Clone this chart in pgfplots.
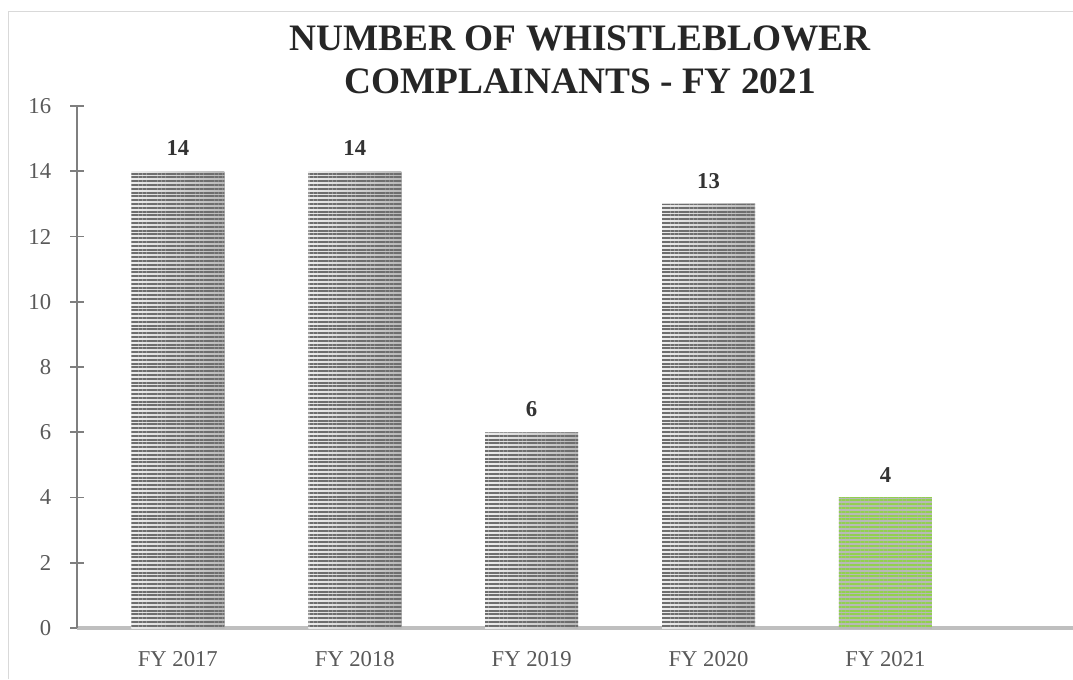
\documentclass[border=0pt]{standalone}
\usepackage{fontspec}
\setmainfont{Liberation Serif}
\usepackage{pgfplots}
\pgfplotsset{compat=1.18}
\usetikzlibrary{patterns.meta}
\definecolor{framec}{HTML}{D9D9D9}
\definecolor{titlec}{HTML}{262626}
\definecolor{tickc}{HTML}{595959}
\definecolor{labelc}{HTML}{333333}
\definecolor{yaxisc}{HTML}{7F7F7F}
\definecolor{xaxisc}{HTML}{BFBFBF}
\definecolor{stripeg}{HTML}{6E6E6E}
\definecolor{lightg1}{HTML}{EDEDED}
\definecolor{lightg2}{HTML}{B8B8B8}
\definecolor{stripegreen}{HTML}{92D050}
\pgfplotsset{
  graybg/.style={draw=none, left color=lightg1, right color=lightg2},
  greenbg/.style={draw=none, left color=lightg2, middle color=white, right color=lightg2},
  grayln/.style={draw=none, fill=none, pattern={Lines[angle=0,distance=2.85pt,line width=1.4pt]}, pattern color=stripeg},
  greenln/.style={draw=none, fill=none, pattern={Lines[angle=0,distance=2.85pt,line width=1.4pt]}, pattern color=stripegreen},
}
\begin{document}
\begin{tikzpicture}
\useasboundingbox (0,0) rectangle (804.75pt,-509.25pt);
\draw[framec, line width=0.75pt] (6pt,-509.25pt) -- (6pt,-8.25pt) -- (804.75pt,-8.25pt);
\node[anchor=base, inner sep=0pt, font=\fontsize{28}{32}\selectfont\bfseries, text=titlec] at (435pt,-37.5pt) {NUMBER OF WHISTLEBLOWER};
\node[anchor=base, inner sep=0pt, font=\fontsize{28}{32}\selectfont\bfseries, text=titlec] at (435pt,-69.75pt) {COMPLAINANTS - FY 2021};
\begin{axis}[
  at={(57.75pt,-471pt)}, anchor=south west,
  scale only axis, width=747pt, height=391.5pt,
  xmin=-0.57, xmax=5.06, ymin=0, ymax=16,
  ytick={0,2,...,16},
  xtick={0,1,2,3,4},
  xticklabels={FY 2017,FY 2018,FY 2019,FY 2020,FY 2021},
  axis lines*=left,
  x axis line style={xaxisc, line width=3pt},
  y axis line style={yaxisc, line width=1.2pt},
  xtick style={draw=none},
  ytick style={yaxisc, line width=1.2pt},
  major tick length=9.75pt, tick align=center,
  /pgf/number format/assume math mode=true,
  tick label style={font=\fontsize{17}{20}\selectfont, text=tickc},
  xticklabel style={anchor=base, yshift=-19pt},
  yticklabel style={anchor=east, xshift=-11pt},
  ybar, bar width=69.75pt, bar shift=0pt,
  every node near coord/.append style={font=\fontsize{17}{20}\selectfont\bfseries, text=labelc, anchor=base, yshift=11.5pt},
  clip=false,
]
\addplot[graybg] coordinates {(0,14)};
\addplot[graybg] coordinates {(1,14)};
\addplot[graybg] coordinates {(2,6)};
\addplot[graybg] coordinates {(3,13)};
\addplot[greenbg] coordinates {(4,4)};
\addplot[grayln, nodes near coords] coordinates {(0,14) (1,14) (2,6) (3,13)};
\addplot[greenln, nodes near coords] coordinates {(4,4)};
\end{axis}
\end{tikzpicture}
\end{document}
